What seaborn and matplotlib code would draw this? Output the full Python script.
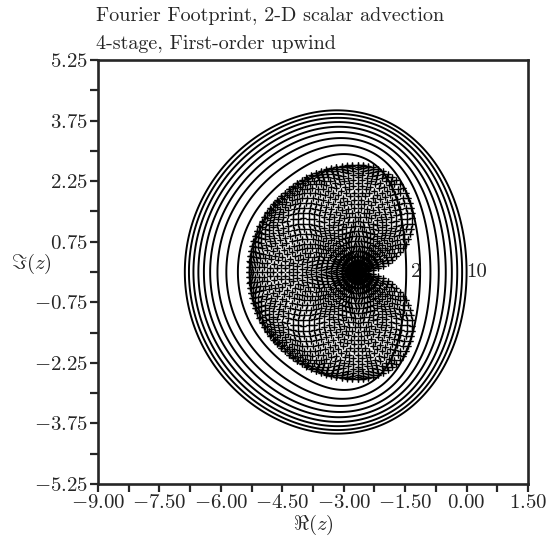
import numpy as np
import pandas as pd
import matplotlib
matplotlib.use("Agg")
import matplotlib.pyplot as plt
import seaborn as sns

# Amplification polynomial of the 4-stage scheme: G(z) = sum c_k z^k
amp_coeffs = [1.0, 0.96, 0.375, 0.070, 0.0052]
# Courant number per grid direction and Fourier modes per direction
courant = 1.33
n_modes = 64

# Contours of |G(z)| and their index labels
contour_levels = [0.2, 0.3, 0.4, 0.5, 0.6, 0.7, 0.8, 0.9, 1.0]
contour_ids = [2, 3, 4, 5, 6, 7, 8, 9, 10]
labelled_ids = [2, 10]

# Axis ticks
x_ticks = [-9.00, -8.25, -7.50, -6.75, -6.00, -5.25, -4.50, -3.75, -3.00,
           -2.25, -1.50, -0.75, 0.00, 0.75, 1.50]
y_ticks = [-5.25, -4.50, -3.75, -3.00, -2.25, -1.50, -0.75, 0.00, 0.75,
           1.50, 2.25, 3.00, 3.75, 4.50, 5.25]
x_labelled = [-9.00, -7.50, -6.00, -4.50, -3.00, -1.50, 0.00, 1.50]
y_labelled = [-5.25, -3.75, -2.25, -0.75, 0.75, 2.25, 3.75, 5.25]

sns.set_style("ticks")
plt.rcParams["mathtext.fontset"] = "cm"
plt.rcParams["font.family"] = ["cmr10", "DejaVu Serif"]
plt.rcParams["axes.formatter.use_mathtext"] = True

fig = plt.figure(figsize=(5.51, 5.40), dpi=100)
ax = fig.add_axes([98 / 551, 1 - 484 / 540, 430 / 551, 424 / 540])

# |G| field over the complex plane
xr = np.linspace(x_ticks[0], x_ticks[-1], 700)
yi = np.linspace(y_ticks[0], y_ticks[-1], 700)
XR, YI = np.meshgrid(xr, yi)
G = np.abs(np.polynomial.polynomial.polyval(XR + 1j * YI, amp_coeffs))
cs = ax.contour(XR, YI, G, levels=contour_levels, colors="black", linewidths=1.4)

# High-frequency Fourier footprint of first-order upwind advection
theta = -np.pi + 2 * np.pi * np.arange(n_modes) / n_modes
TX, TY = np.meshgrid(theta, theta)
high = np.maximum(np.abs(TX), np.abs(TY)) >= np.pi / 2 - 1e-9
lam = -courant * (1 - np.exp(-1j * TX[high])) - courant * (1 - np.exp(-1j * TY[high]))
foot = pd.DataFrame({"re": lam.real, "im": lam.imag})
sns.scatterplot(data=foot, x="re", y="im", marker="+", s=14, linewidth=0.9,
                color="black", ax=ax, legend=False)

# index labels on the real-axis crossings of selected contours
for cid in labelled_ids:
    k = contour_ids.index(cid)
    pts = np.concatenate(cs.allsegs[k])
    near_axis = pts[np.abs(pts[:, 1]) < 0.3]
    xc = near_axis[:, 0].max()
    ax.annotate(str(cid), xy=(xc, 0.0), xytext=(7, 0), textcoords="offset points",
                ha="center", va="center", fontsize=15)

ax.set_xlim(x_ticks[0], x_ticks[-1])
ax.set_ylim(y_ticks[0], y_ticks[-1])
ax.set_xticks(x_ticks)
ax.set_yticks(y_ticks)
ax.set_xticklabels([f"${v:.2f}$" if v in x_labelled else "" for v in x_ticks])
ax.set_yticklabels([f"${v:.2f}$" if v in y_labelled else "" for v in y_ticks])
ax.tick_params(direction="out", length=6, width=1.6, labelsize=15, pad=1,
               top=False, right=False)
for sp in ax.spines.values():
    sp.set_linewidth(1.9)
    sp.set_visible(True)

ax.set_xlabel(r"$\Re(z)$", fontsize=15, labelpad=1)
ax.set_ylabel(r"$\Im(z)$", fontsize=15, rotation=0, ha="center", va="center")
ax.yaxis.set_label_coords(-0.156, 0.518)

fig.text(96 / 551, 1 - 21 / 540, "Fourier Footprint, 2-D scalar advection",
         fontsize=14.5, ha="left", va="baseline")
fig.text(96 / 551, 1 - 49 / 540, "4-stage, First-order upwind",
         fontsize=14.5, ha="left", va="baseline")

fig.savefig("out.png", dpi=100)
